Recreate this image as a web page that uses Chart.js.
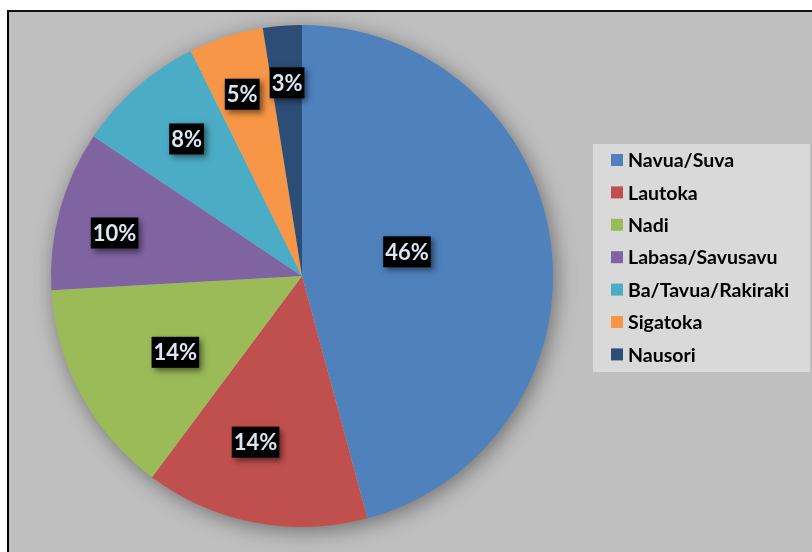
<!DOCTYPE html>
<html>
<head>
<meta charset="utf-8">
<script src="https://cdn.jsdelivr.net/npm/chart.js@4"></script>
<style>
  body { margin: 0; background: #fff; overflow: hidden; width: 812px; height: 552px; position: relative; }
  #frame { position: absolute; left: 7px; top: 10px; width: 900px; height: 700px;
           border-left: 2px solid #000; border-top: 2px solid #111; background: #bfbfbf; }
  #chartBox { position: absolute; left: 0; top: 0; width: 812px; height: 552px; }
</style>
</head>
<body>
<div id="frame"></div>
<div id="chartBox"><canvas id="pie-chart" width="812" height="552"></canvas></div>
<script>
// data (share of each region, %)
const regions = ['Navua/Suva', 'Lautoka', 'Nadi', 'Labasa/Savusavu', 'Ba/Tavua/Rakiraki', 'Sigatoka', 'Nausori'];
const shares = [45.8, 14.4, 13.9, 10.3, 8.3, 4.8, 2.5];
const colors = ['#4F81BD', '#C0504D', '#9BBB59', '#8064A2', '#4BACC6', '#F79646', '#2C4D75'];

// where each percent label sits: fraction of radius on the slice bisector, then a small pixel nudge
const labelRadius = [0.43, 0.69, 0.6, 0.77, 0.71, 0.76, 0.76];
const labelNudge = [[-2, -10], [-14, -4], [6, 5], [-1, 8], [2, -3], [-2, 0], [0, -3]];

// soft shadow under the whole pie
const pieShadow = {
  id: 'pieShadow',
  beforeDatasetsDraw(chart) {
    const arc = chart.getDatasetMeta(0).data[0];
    if (!arc) return;
    const ctx = chart.ctx;
    ctx.save();
    ctx.shadowColor = 'rgba(0,0,0,0.45)';
    ctx.shadowBlur = 22;
    ctx.shadowOffsetX = 3;
    ctx.shadowOffsetY = 4;
    ctx.fillStyle = '#bfbfbf';
    ctx.beginPath();
    ctx.arc(arc.x, arc.y, arc.outerRadius - 1, 0, Math.PI * 2);
    ctx.fill();
    ctx.restore();
  }
};

// black boxes with the percentages
const pctLabels = {
  id: 'pctLabels',
  afterDatasetsDraw(chart) {
    const ctx = chart.ctx;
    const arcs = chart.getDatasetMeta(0).data;
    ctx.save();
    ctx.font = 'bold 22px Lato';
    ctx.textAlign = 'center';
    ctx.textBaseline = 'middle';
    arcs.forEach((arc, i) => {
      const mid = (arc.startAngle + arc.endAngle) / 2;
      const r = arc.outerRadius * labelRadius[i];
      const x = arc.x + Math.cos(mid) * r + labelNudge[i][0];
      const y = arc.y + Math.sin(mid) * r + labelNudge[i][1];
      const txt = Math.round(shares[i]) + '%';
      const w = ctx.measureText(txt).width + 4;
      const h = 31;
      ctx.shadowColor = 'rgba(0,0,0,0.5)';
      ctx.shadowBlur = 6;
      ctx.shadowOffsetX = 3;
      ctx.shadowOffsetY = 3;
      ctx.fillStyle = '#000';
      ctx.fillRect(x - w / 2, y - h / 2, w, h);
      ctx.shadowColor = 'rgba(0,0,0,0.8)';
      ctx.shadowBlur = 2;
      ctx.shadowOffsetX = 1;
      ctx.shadowOffsetY = 1;
      ctx.fillStyle = '#dce6f2';
      ctx.fillText(txt, x, y + 1);
    });
    ctx.restore();
  }
};

// legend in a light grey box on the right
const sideLegend = {
  id: 'sideLegend',
  afterDraw(chart) {
    const ctx = chart.ctx;
    const left = 593, top = 144, width = 217, height = 228;
    ctx.save();
    ctx.fillStyle = '#d9d9d9';
    ctx.fillRect(left, top, width, height);
    ctx.font = 'bold 19.5px Lato';
    ctx.textBaseline = 'middle';
    chart.data.labels.forEach((name, i) => {
      const y = 160 + i * 32.4;
      ctx.fillStyle = colors[i];
      ctx.fillRect(611, y - 6, 12, 12);
      ctx.fillStyle = '#000';
      ctx.fillText(name, 628, y + 1);
    });
    ctx.restore();
  }
};

const pieCanvas = document.getElementById('pie-chart');

let pieChart = new Chart(pieCanvas, {
  type: 'pie',
  data: {
    labels: regions,
    datasets: [{
      data: shares,
      backgroundColor: colors,
      borderWidth: 0
    }]
  },
  options: {
    responsive: false,
    animation: { duration: 0 },
    layout: { padding: { left: 51, right: 259, top: 25, bottom: 25 } },
    plugins: {
      legend: { display: false },
      tooltip: { enabled: false }
    }
  },
  plugins: [pieShadow, pctLabels, sideLegend]
});
</script>
</body>
</html>
